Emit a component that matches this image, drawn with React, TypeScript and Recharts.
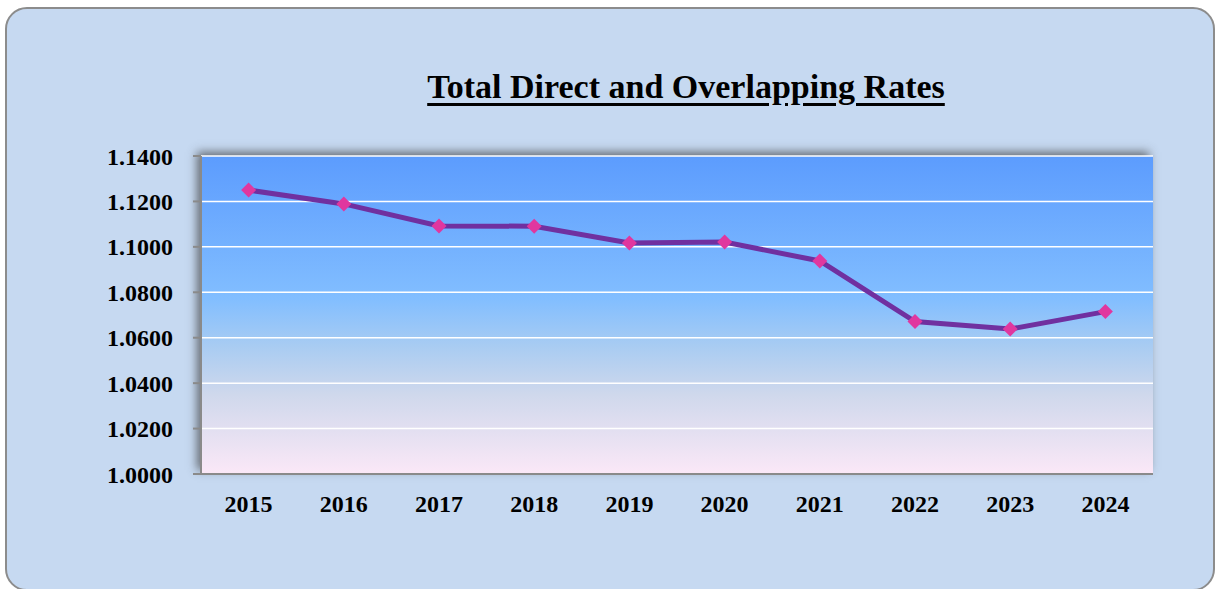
import React from "react";
import { LineChart, Line, XAxis, YAxis, CartesianGrid } from "recharts";

const years = ["2015", "2016", "2017", "2018", "2019", "2020", "2021", "2022", "2023", "2024"];
const rates = [1.125, 1.1189, 1.1092, 1.1091, 1.1017, 1.1021, 1.0938, 1.0671, 1.0638, 1.0715];
const yTicks = [1.0, 1.02, 1.04, 1.06, 1.08, 1.1, 1.12, 1.14];

const data = years.map((year, i) => ({ year, rate: rates[i] }));

const font = "'Liberation Serif', 'DejaVu Serif', serif";

function Diamond(props: any) {
  const { cx, cy } = props;
  if (cx == null || cy == null) return null;
  const r = 7.5;
  return (
    <polygon
      points={`${cx},${cy - r} ${cx + r},${cy} ${cx},${cy + r} ${cx - r},${cy}`}
      fill="#e0379f"
    />
  );
}

export default function App() {
  return (
    <div style={{ position: "absolute", left: 0, top: 0, width: 1215, height: 589, overflow: "hidden", background: "#fff" }}>
      <div
        style={{
          position: "absolute",
          left: 5,
          top: 7,
          width: 1206,
          height: 580,
          border: "2px solid #8c8c8c",
          borderRadius: 22,
          background: "#c6d9f1",
        }}
      />
      <div
        style={{
          position: "absolute",
          left: 0,
          width: 1372,
          top: 68,
          textAlign: "center",
          fontFamily: font,
          fontWeight: "bold",
          fontSize: 34,
          textDecoration: "underline",
          textUnderlineOffset: 5,
          color: "#000",
        }}
      >
        Total Direct and Overlapping Rates
      </div>
      {/* plot area shadow */}
      <div
        style={{
          position: "absolute",
          left: 201,
          top: 156,
          width: 952,
          height: 318,
          boxShadow: "-4px -4px 9px rgba(60,60,60,0.7)",
        }}
      />
      <div style={{ position: "absolute", left: 0, top: 0 }}>
        <LineChart width={1215} height={589} data={data} margin={{ top: 156, right: 62, bottom: 85, left: 0 }}>
          <defs>
            <linearGradient id="plotGrad" x1="0" y1="0" x2="0" y2="1">
              <stop offset="0%" stopColor="#5c9cfe" />
              <stop offset="45%" stopColor="#82beff" />
              <stop offset="60%" stopColor="#a9ccf2" />
              <stop offset="75%" stopColor="#cfd8ec" />
              <stop offset="100%" stopColor="#fbe8f7" />
            </linearGradient>
          </defs>
          <CartesianGrid vertical={false} stroke="#ffffff" strokeWidth={1.5} fill="url(#plotGrad)" fillOpacity={1} />
          <XAxis
            dataKey="year"
            height={30}
            padding={{ left: 47.6, right: 47.6 }}
            axisLine={{ stroke: "#8a8a8a", strokeWidth: 2 }}
            tickLine={false}
            tickMargin={15}
            tick={{ fill: "#000", fontSize: 24, fontWeight: "bold", fontFamily: font }}
            interval={0}
          />
          <YAxis
            width={201}
            domain={[1.0, 1.14]}
            ticks={yTicks}
            allowDataOverflow
            tickFormatter={(v: number) => v.toFixed(4)}
            axisLine={{ stroke: "#8a8a8a", strokeWidth: 2 }}
            tickLine={{ stroke: "#8a8a8a", strokeWidth: 2 }}
            tickSize={8}
            tickMargin={20}
            tick={{ fill: "#000", fontSize: 24, fontWeight: "bold", fontFamily: font }}
          />
          <Line
            type="linear"
            dataKey="rate"
            stroke="#7030a0"
            strokeWidth={5}
            dot={<Diamond />}
            activeDot={false}
            isAnimationActive={false}
          />
        </LineChart>
      </div>
    </div>
  );
}
